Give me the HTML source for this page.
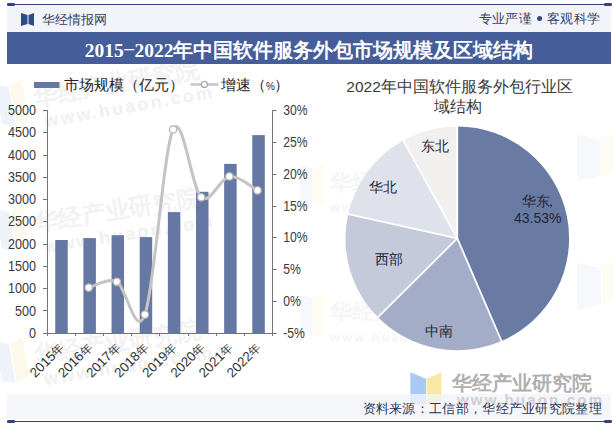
<!DOCTYPE html>
<html><head><meta charset="utf-8">
<style>
html,body{margin:0;padding:0;background:#fff;}
body{width:614px;height:428px;overflow:hidden;position:relative;font-family:"Liberation Sans",sans-serif;}
svg{position:absolute;left:0;top:0;}
</style></head><body>
<svg width="614" height="428" viewBox="0 0 614 428" font-family="Liberation Sans, sans-serif">
<!-- header -->
<rect x="7" y="5" width="604" height="27" fill="#f3f4f9"/>
<rect x="7" y="4" width="605" height="1" fill="#34447a"/>
<rect x="7" y="3" width="8" height="3" rx="1.2" fill="#34447a"/>
<rect x="604" y="3" width="8" height="3" rx="1.2" fill="#34447a"/>
<!-- icon -->
<path d="M21,13 L27.5,15 L27.5,24 L21,26 Z" fill="#2f4a8c"/>
<path d="M34,13 L28.5,15 L28.5,24 L34,26 Z" fill="#2f4a8c"/>
<text x="41.5" y="23.5" font-size="13" fill="#34406a">华经情报网</text>
<text x="478.5" y="23" font-size="13" fill="#34406a" letter-spacing="0.4">专业严谨</text>
<circle cx="539.6" cy="18.5" r="2.5" fill="#2f4a80"/>
<text x="547" y="23" font-size="13" fill="#34406a" letter-spacing="0.4">客观科学</text>
<!-- title band -->
<rect x="7" y="32" width="604" height="32" fill="#455e99"/>
<text x="309" y="56.5" font-size="19.5" font-weight="bold" fill="#ffffff" text-anchor="middle" font-family="Liberation Serif, serif">2015<tspan dy="-3" dx="0.5">–</tspan><tspan dy="3" dx="0.5">2022年中国软件服务外包市场规模及区域结构</tspan></text>

<!-- watermarks -->
<defs><clipPath id="cp"><rect x="0" y="64" width="614" height="330"/></clipPath></defs>
<g font-weight="bold" clip-path="url(#cp)">
<g transform="translate(0,112) rotate(-10)" fill="#f2f2f2">
<path d="M0,-28 L13,-23 L13,16 L0,12 Z" fill="#eef3fb"/><path d="M14,-23 L27,-28 L27,12 L14,16 Z" fill="#fdf9ec"/>
<text x="36" y="0" font-size="24">华经产业研究院</text>
<text x="42" y="23" font-size="18" letter-spacing="2.3" fill="#f0f0f0">www.huaon.com</text>
</g>
<g transform="translate(0,237) rotate(-9)" fill="#f2f2f2">
<path d="M0,-28 L13,-23 L13,16 L0,12 Z" fill="#eef3fb"/><path d="M14,-23 L27,-28 L27,12 L14,16 Z" fill="#fdf9ec"/>
<text x="36" y="0" font-size="24">华经产业研究院</text>
<text x="42" y="23" font-size="18" letter-spacing="2.3" fill="#f0f0f0">www.huaon.com</text>
</g>
<g transform="translate(0,369) rotate(-9)" fill="#f2f2f2">
<path d="M0,-28 L13,-23 L13,16 L0,12 Z" fill="#eef3fb"/><path d="M14,-23 L27,-28 L27,12 L14,16 Z" fill="#fdf9ec"/>
<text x="36" y="0" font-size="24">华经产业研究院</text>
<text x="42" y="23" font-size="18" letter-spacing="2.3" fill="#f0f0f0">www.huaon.com</text>
</g>
<g fill="#f5f5f5">
<text x="330" y="190" font-size="22">华经产业研究院</text>
<text x="330" y="212" font-size="13" letter-spacing="2">www.huaon.com</text>
<text x="330" y="319" font-size="22">华经产业研究院</text>
<text x="330" y="342" font-size="13" letter-spacing="2">www.huaon.com</text>
</g>
<path d="M300,165 L312,168 L312,205 L300,207 Z" fill="#f6f8fc"/><path d="M313,168 L325,165 L325,207 L313,205 Z" fill="#fffcf2"/>
<path d="M300,295 L312,298 L312,335 L300,337 Z" fill="#f6f8fc"/><path d="M313,298 L325,295 L325,337 L313,335 Z" fill="#fffcf2"/>
<path d="M577,134 L600,140 L600,176 L577,181 Z" fill="#f6f8fc"/><path d="M601,139 L614,134 L614,172 L601,176 Z" fill="#fffcf4"/>
<path d="M577,263 L601,268 L601,304 L577,311 Z" fill="#f6f8fc"/><path d="M602,267 L614,262 L614,300 L602,304 Z" fill="#fffcf4"/>
</g>
<!-- bottom watermark -->
<path d="M410.3,372.3 L426,378.7 L426,404 L410.3,404 Z" fill="#aac9f3"/>
<path d="M426.4,378.7 L441.5,372.3 L441.5,404 L426.4,404 Z" fill="#f9e9a6"/>
<text x="452" y="390" font-size="19.8" font-weight="bold" fill="#b0b0b0">华经产业研究院</text>
<!-- footer band -->
<rect x="7" y="394" width="604" height="25" fill="#f3f4f9" fill-opacity="0.8"/>
<defs><clipPath id="cpw"><rect x="0" y="380" width="614" height="25"/></clipPath></defs>
<text x="457" y="405" font-size="15" font-weight="bold" fill="#cfcfd4" letter-spacing="2.2" clip-path="url(#cpw)">www.huaon.com</text>
<rect x="7" y="421" width="605" height="1" fill="#34447a"/>
<rect x="7" y="420" width="8" height="3" rx="1.2" fill="#34447a"/>
<rect x="604" y="420" width="8" height="3" rx="1.2" fill="#34447a"/>
<text x="602" y="412.5" font-size="13" fill="#28345a" text-anchor="end" letter-spacing="0.3">资料来源：工信部，华经产业研究院整理</text>

<!-- legend -->
<rect x="34" y="82" width="25.5" height="6" fill="#6577a3"/>
<text x="64" y="90" font-size="14.5" fill="#262626">市场规模（亿元）</text>
<line x1="190.5" y1="84.5" x2="218.5" y2="84.5" stroke="#c4c4c4" stroke-width="2.5"/>
<circle cx="204.4" cy="84.4" r="3" fill="#fff" stroke="#a9a9a9" stroke-width="1.2"/>
<text x="221" y="90" font-size="14.5" fill="#262626">增速（<tspan font-size="10" dx="0">%</tspan><tspan dx="-1">）</tspan></text>

<!-- axes -->
<g stroke="#747474" stroke-width="1" fill="none">
<line x1="47.5" y1="110" x2="47.5" y2="336"/>
<line x1="272.5" y1="110" x2="272.5" y2="336"/>
<line x1="47" y1="333.5" x2="273" y2="333.5"/>
</g>
<g stroke="#747474" stroke-width="1">
<path d="M43,110.5H47.5M43,132.5H47.5M43,155.5H47.5M43,177.5H47.5M43,199.5H47.5M43,221.5H47.5M43,244.5H47.5M43,266.5H47.5M43,288.5H47.5M43,310.5H47.5M43,333.5H47.5"/>
<path d="M272.5,110.5H276.5M272.5,142.5H276.5M272.5,174.5H276.5M272.5,206.5H276.5M272.5,237.5H276.5M272.5,269.5H276.5M272.5,301.5H276.5M272.5,333.5H276.5"/>
<path d="M75.5,333.5V336M103.5,333.5V336M131.5,333.5V336M159.5,333.5V336M188.5,333.5V336M216.5,333.5V336M244.5,333.5V336"/>
</g>
<g font-size="14" fill="#3a3a3a" text-anchor="end" transform="scale(0.9,1)">
<text x="40" y="115.0">5000</text>
<text x="40" y="137.3">4500</text>
<text x="40" y="159.6">4000</text>
<text x="40" y="181.9">3500</text>
<text x="40" y="204.2">3000</text>
<text x="40" y="226.5">2500</text>
<text x="40" y="248.8">2000</text>
<text x="40" y="271.1">1500</text>
<text x="40" y="293.4">1000</text>
<text x="40" y="315.7">500</text>
<text x="40" y="338.0">0</text>
</g>
<g font-size="14" fill="#3a3a3a" transform="scale(0.87,1)">
<text x="325.5" y="115.0">30%</text>
<text x="325.5" y="146.9">25%</text>
<text x="325.5" y="178.7">20%</text>
<text x="325.5" y="210.6">15%</text>
<text x="325.5" y="242.4">10%</text>
<text x="325.5" y="274.3">5%</text>
<text x="325.5" y="306.1">0%</text>
<text x="325.5" y="338.0">-5%</text>
</g>
<!-- bars -->
<g fill="#6577a3">
<rect x="55.25" y="240.0" width="12.5" height="93.5"/>
<rect x="83.40" y="238.1" width="12.5" height="95.4"/>
<rect x="111.55" y="235.2" width="12.5" height="98.3"/>
<rect x="139.70" y="237.1" width="12.5" height="96.4"/>
<rect x="167.85" y="212.1" width="12.5" height="121.4"/>
<rect x="196.00" y="191.8" width="12.5" height="141.7"/>
<rect x="224.15" y="163.9" width="12.5" height="169.6"/>
<rect x="252.30" y="135.1" width="12.5" height="198.4"/>
</g>
<!-- line -->
<path d="M88.7,287.6 C93.4,286.6 107.4,277.3 116.8,281.8 C126.2,286.3 135.5,340.0 144.9,314.6 C154.3,289.2 163.7,149.1 173.1,129.5 C182.5,110.0 191.8,189.5 201.2,197.3 C210.6,205.1 220.0,177.6 229.4,176.4 C238.8,175.2 252.8,188.1 257.5,190.4" fill="none" stroke="#c4c4c4" stroke-width="3"/>
<g fill="#fff" stroke="#b4b4b4" stroke-width="1.3">
<circle cx="88.7" cy="287.6" r="3.7"/>
<circle cx="116.8" cy="281.8" r="3.7"/>
<circle cx="144.9" cy="314.6" r="3.7"/>
<circle cx="173.1" cy="129.5" r="3.7"/>
<circle cx="201.2" cy="197.3" r="3.7"/>
<circle cx="229.4" cy="176.4" r="3.7"/>
<circle cx="257.5" cy="190.4" r="3.7"/>
</g>
<!-- x labels -->
<g font-size="13.4" fill="#333333" text-anchor="end">
<text transform="translate(64.9,348.6) rotate(-45)">2015<tspan font-size="12">年</tspan></text>
<text transform="translate(93.0,348.6) rotate(-45)">2016<tspan font-size="12">年</tspan></text>
<text transform="translate(121.2,348.6) rotate(-45)">2017<tspan font-size="12">年</tspan></text>
<text transform="translate(149.3,348.6) rotate(-45)">2018<tspan font-size="12">年</tspan></text>
<text transform="translate(177.4,348.6) rotate(-45)">2019<tspan font-size="12">年</tspan></text>
<text transform="translate(205.6,348.6) rotate(-45)">2020<tspan font-size="12">年</tspan></text>
<text transform="translate(233.7,348.6) rotate(-45)">2021<tspan font-size="12">年</tspan></text>
<text transform="translate(261.8,348.6) rotate(-45)">2022<tspan font-size="12">年</tspan></text>
</g>

<!-- pie title -->
<g font-size="15.5" fill="#3a3a3a" text-anchor="middle">
<text x="459.6" y="92">2022年中国软件服务外包行业区</text>
<text x="458.3" y="112">域结构</text>
</g>
<!-- pie -->
<g>
<path d="M457.3,238.4 L457.30,126.60 A111.8,111.8 0 0 1 501.52,341.08 Z" fill="#6a7ba3"/>
<path d="M457.3,238.4 L501.52,341.08 A111.8,111.8 0 0 1 377.97,317.18 Z" fill="#a4adc8"/>
<path d="M457.3,238.4 L377.97,317.18 A111.8,111.8 0 0 1 348.15,214.20 Z" fill="#c5cada"/>
<path d="M457.3,238.4 L348.15,214.20 A111.8,111.8 0 0 1 403.27,140.52 Z" fill="#dfe2eb"/>
<path d="M457.3,238.4 L403.27,140.52 A111.8,111.8 0 0 1 457.30,126.60 Z" fill="#f1f0ef"/>
</g>
<g stroke="#ffffff" stroke-width="1.8" stroke-linecap="butt">
<line x1="457.3" y1="238.4" x2="457.30" y2="125.60"/>
<line x1="457.3" y1="238.4" x2="501.92" y2="342.00"/>
<line x1="457.3" y1="238.4" x2="377.26" y2="317.88"/>
<line x1="457.3" y1="238.4" x2="347.17" y2="213.99"/>
<line x1="457.3" y1="238.4" x2="402.79" y2="139.65"/>
</g>
<g font-size="14" fill="#222533" text-anchor="middle">
<text x="540" y="206">华东<tspan dx="-5.5">，</tspan></text>
<text x="537.7" y="223">43.53%</text>
<text x="435" y="151">东北</text>
<text x="382.5" y="191.5">华北</text>
<text x="388.7" y="264">西部</text>
<text x="438.8" y="335.5">中南</text>
</g>
</svg>
</body></html>
